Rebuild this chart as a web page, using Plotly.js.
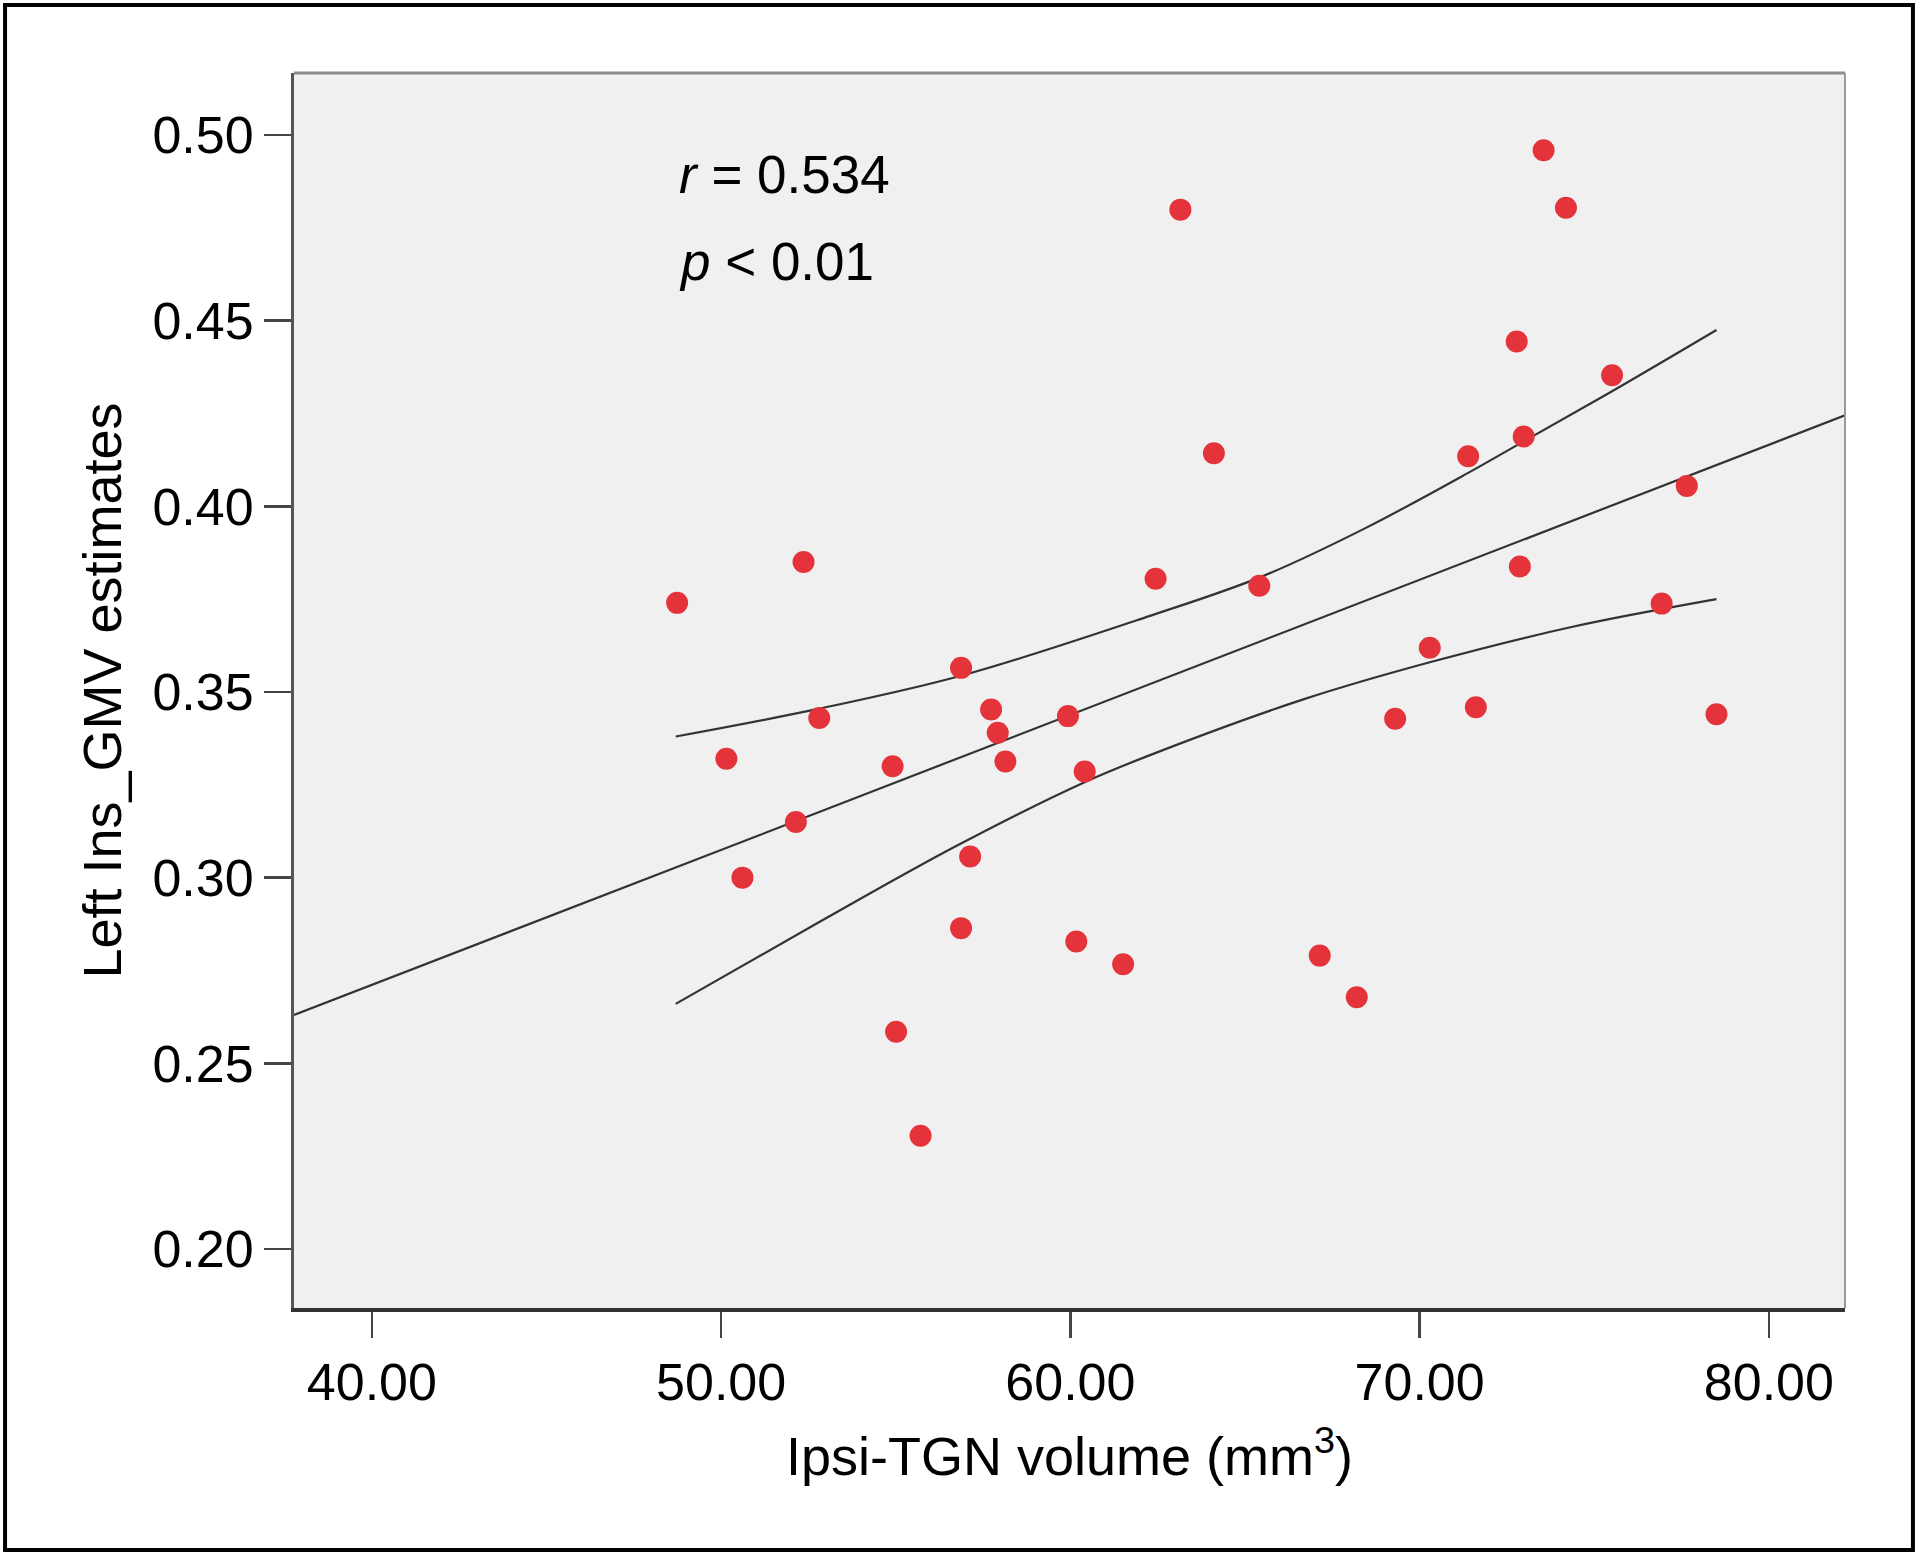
<!DOCTYPE html>
<html>
<head>
<meta charset="utf-8">
<script src="https://cdn.plot.ly/plotly-3.0.1.min.js"></script>
<style>
html,body{margin:0;padding:0;background:#fff;}
#chart{width:1920px;height:1556px;}
</style>
</head>
<body>
<div id="chart"></div>
<script>
// Scatter data: Ipsi-TGN volume (mm3) vs Left Ins_GMV estimates
const volume = [48.74, 50.15, 50.61, 52.14, 52.36, 52.81, 54.91, 55.01, 55.71, 56.87,
                56.87, 57.13, 57.73, 57.92, 58.14, 59.93, 60.17, 60.41, 61.51, 62.44,
                63.15, 64.11, 65.41, 67.14, 68.20, 69.30, 70.29, 71.39, 71.61, 72.78,
                72.87, 72.98, 73.55, 74.19, 75.51, 76.93, 77.65, 78.50];
const gmv = [0.374, 0.332, 0.300, 0.315, 0.385, 0.343, 0.330, 0.2585, 0.2305, 0.3565,
             0.2864, 0.3057, 0.3453, 0.339, 0.3313, 0.3435, 0.2828, 0.3286, 0.2767, 0.3805,
             0.4799, 0.4143, 0.3786, 0.279, 0.2678, 0.3428, 0.3619, 0.4135, 0.3459, 0.4444,
             0.3838, 0.4188, 0.4959, 0.4804, 0.4353, 0.3738, 0.4055, 0.3440];

// Fit line
const fitX = [37.77, 82.18];
const fitY = [0.263, 0.4245];

// Confidence band curves
const upperX = [48.70, 52.81, 56.92, 62.28, 65.46, 68.42, 71.39, 72.98, 75.51, 78.50];
const upperY = [0.338, 0.3455, 0.3545, 0.3705, 0.381, 0.394, 0.409, 0.4175, 0.431, 0.4475];
const lowerX = [48.70, 52.71, 56.73, 60.36, 62.28, 66.67, 70.29, 74.35, 78.50];
const lowerY = [0.266, 0.2875, 0.3085, 0.3255, 0.333, 0.348, 0.358, 0.3675, 0.375];

// Ticks
const xTickVals = [40, 50, 60, 70, 80];
const xTickText = ["40.00", "50.00", "60.00", "70.00", "80.00"];
const yTickVals = [0.20, 0.25, 0.30, 0.35, 0.40, 0.45, 0.50];
const yTickText = ["0.20", "0.25", "0.30", "0.35", "0.40", "0.45", "0.50"];

const FONT = "Liberation Sans, Arial, Helvetica, sans-serif";
const lineStyle = {color: "#333333", width: 2.2};

const traces = [
  {x: fitX, y: fitY, mode: "lines", line: lineStyle, hoverinfo: "skip", showlegend: false},
  {x: upperX, y: upperY, mode: "lines", line: Object.assign({shape: "spline", smoothing: 1}, lineStyle), hoverinfo: "skip", showlegend: false},
  {x: lowerX, y: lowerY, mode: "lines", line: Object.assign({shape: "spline", smoothing: 1}, lineStyle), hoverinfo: "skip", showlegend: false},
  {x: volume, y: gmv, mode: "markers", marker: {color: "#e5333b", size: 22, line: {width: 0}}, showlegend: false}
];

const layout = {
  width: 1920, height: 1556,
  paper_bgcolor: "#ffffff",
  plot_bgcolor: "#f0f0f0",
  margin: {l: 294, r: 75, t: 73, b: 248, pad: 0},
  font: {family: FONT, color: "#000000", size: 52},
  showlegend: false,
  xaxis: {
    range: [37.77, 82.18],
    tickmode: "array", tickvals: xTickVals, ticktext: xTickText,
    ticks: "outside", ticklen: 26, tickwidth: 2.5, tickcolor: "#444444",
    showline: true, linecolor: "#333333", linewidth: 4,
    showgrid: false, zeroline: false,
    tickfont: {family: FONT, size: 52, color: "#000"},
    title: {text: "Ipsi-TGN volume (mm<sup>3</sup>)", font: {family: FONT, size: 54, color: "#000"}, standoff: 28}
  },
  yaxis: {
    range: [0.1841, 0.5167],
    tickmode: "array", tickvals: yTickVals, ticktext: yTickText,
    ticks: "outside", ticklen: 27, tickwidth: 2.5, tickcolor: "#444444",
    showline: true, linecolor: "#555555", linewidth: 3,
    showgrid: false, zeroline: false,
    tickfont: {family: FONT, size: 52, color: "#000"},
    title: {text: "Left Ins_GMV estimates", font: {family: FONT, size: 54, color: "#000"}, standoff: 14}
  },
  shapes: [
    {type: "line", xref: "paper", yref: "paper", x0: 0, x1: 1, y0: 1, y1: 1, line: {color: "#8c8c8c", width: 3}},
    {type: "line", xref: "paper", yref: "paper", x0: 1, x1: 1, y0: 0, y1: 1, line: {color: "#9a9a9a", width: 2}},
    {type: "rect", xref: "paper", yref: "paper", x0: -0.1863, x1: 1.0438, y0: -0.196, y1: 1.0551, line: {color: "#000000", width: 4}}
  ],
  annotations: [
    {xref: "paper", yref: "paper", x: 0.247, y: 0.918, xanchor: "left", yanchor: "middle", showarrow: false,
     text: "<i>r</i> = 0.534", font: {family: FONT, size: 53, color: "#000"}},
    {xref: "paper", yref: "paper", x: 0.247, y: 0.847, xanchor: "left", yanchor: "middle", showarrow: false,
     text: "<i>p</i> &lt; 0.01", font: {family: FONT, size: 53, color: "#000"}}
  ]
};

Plotly.newPlot("chart", traces, layout, {displayModeBar: false, staticPlot: true});
</script>
</body>
</html>
